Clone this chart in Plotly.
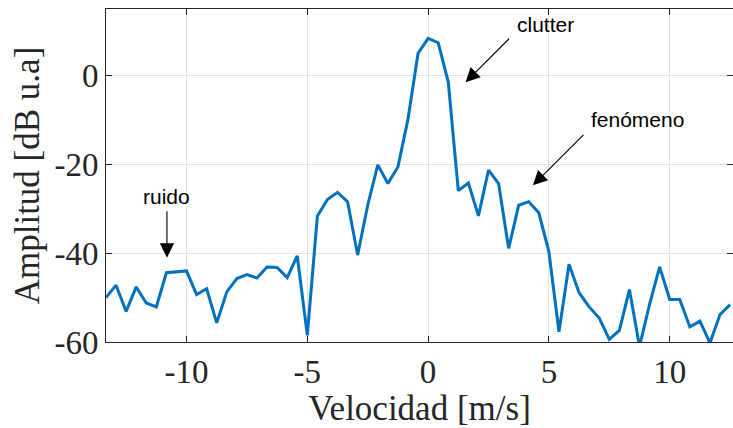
import plotly.graph_objects as go

velocidad = [-13.333, -12.917, -12.5, -12.083, -11.667, -11.25, -10.833, -10.417, -10.0,
             -9.583, -9.167, -8.75, -8.333, -7.917, -7.5, -7.083, -6.667, -6.25, -5.833,
             -5.417, -5.0, -4.583, -4.167, -3.75, -3.333, -2.917, -2.5, -2.083, -1.667,
             -1.25, -0.833, -0.417, 0.0, 0.417, 0.833, 1.25, 1.667, 2.083, 2.5, 2.917,
             3.333, 3.75, 4.167, 4.583, 5.0, 5.417, 5.833, 6.25, 6.667, 7.083, 7.5, 7.917,
             8.333, 8.75, 9.167, 9.583, 10.0, 10.417, 10.833, 11.25, 11.667, 12.083, 12.5]

amplitud = [-50.0, -47.2, -53.1, -47.6, -51.2, -52.1, -44.4, -44.2, -44.0,
            -49.3, -48.0, -55.7, -48.7, -45.7, -44.8, -45.6, -43.1, -43.2, -45.5,
            -40.6, -58.5, -31.6, -27.9, -26.3, -28.4, -40.4, -29.2, -20.1, -24.3,
            -20.6, -9.8, 5.0, 8.4, 7.4, -1.4, -25.9, -24.2, -31.6, -21.3, -24.3,
            -38.9, -29.2, -28.4, -30.9, -39.7, -57.7, -42.5, -48.9, -52.1, -54.6, -59.4, -57.4,
            -48.2, -61.0, -51.5, -43.1, -50.4, -50.4, -56.6, -55.3, -60.2, -53.8, -51.6]

x_ticks = [-10, -5, 0, 5, 10]
x_ticklabels = ["-10", "-5", "0", "5", "10"]
y_ticks = [-60, -40, -20, 0]
y_ticklabels = ["-60", "-40", "-20", "0"]

serif = "Liberation Serif"
sans = "Liberation Sans"
axcol = "#262626"
gridcol = "#e3e3e3"

fig = go.Figure()
fig.add_trace(go.Scatter(x=velocidad, y=amplitud, mode="lines",
                         line=dict(color="#0072BD", width=3), showlegend=False))

common = dict(showline=True, linecolor=axcol, linewidth=1, mirror="ticks",
              ticks="inside", ticklen=6, tickcolor=axcol, tickwidth=1,
              showgrid=True, gridcolor=gridcol, gridwidth=1, zeroline=False,
              automargin=False,
              tickfont=dict(family=serif, size=33, color=axcol))

fig.update_xaxes(range=[-13.333, 12.62], tickmode="array", tickvals=x_ticks,
                 ticktext=x_ticklabels,
                 title=dict(text="Velocidad [m/s]", font=dict(family=serif, size=35, color=axcol),
                            standoff=2), **common)
fig.update_yaxes(range=[-60, 15], tickmode="array", tickvals=y_ticks,
                 ticktext=y_ticklabels,
                 title=dict(text="Amplitud [dB u.a]", font=dict(family=serif, size=35, color=axcol),
                            standoff=4), **common)

arrows = [
    dict(x=1.55, y=-1.5, ax=45, ay=-45),
    dict(x=4.34, y=-24.7, ax=52, ay=-52),
    dict(x=-10.81, y=-41.0, ax=0, ay=-48),
]
for a in arrows:
    fig.add_annotation(x=a["x"], y=a["y"], ax=a["ax"], ay=a["ay"], xref="x", yref="y",
                       text="", showarrow=True, arrowhead=2, arrowsize=2.6,
                       arrowwidth=1.1, arrowcolor="black")

labels = [("clutter", 4.84, 11.6), ("fenómeno", 8.66, -9.9), ("ruido", -10.84, -27.3)]
for t, x, y in labels:
    fig.add_annotation(x=x, y=y, xref="x", yref="y", text=t, showarrow=False,
                       font=dict(family=sans, size=21, color="black"))

fig.update_layout(width=733, height=428, margin=dict(l=105.5, r=0, t=9, b=86.3),
                  plot_bgcolor="white", paper_bgcolor="white")

fig.write_html("out.html", config={"displayModeBar": False},
               post_script="document.body.style.margin='0px';")
